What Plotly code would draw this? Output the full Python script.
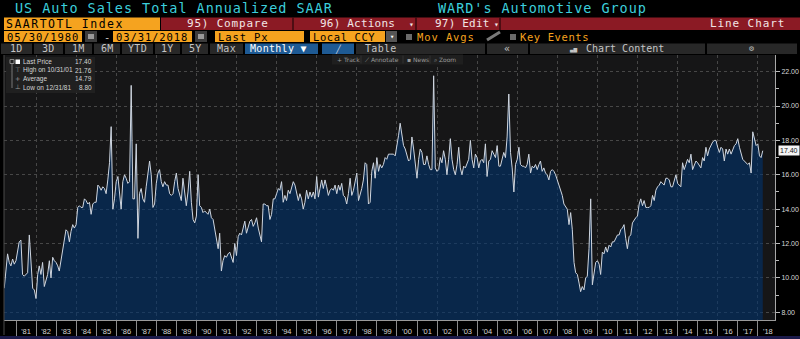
import plotly.graph_objects as go
import pandas as pd
from datetime import datetime

W, H = 800, 339

# ---------------- data (monthly SAAR, millions) ----------------
v1980 = [9.4, 10.6, 11.4, 10.9, 10.7, 11.1, 10.8, 11.0]  # May-Dec
v1981 = [11.5, 12.1, 12.2, 10.2, 10.1, 10.2, 10.3, 12.5, 11.1, 9.4, 9.3, 8.8]
v1982 = [10.2, 10.7, 10.2, 10.9, 9.5, 9.8, 10.2, 11.0, 10.0, 11.2, 11.0, 10.9]
v1983 = [10.7, 10.4, 11.0, 11.6, 12.0, 12.8, 12.7, 12.1, 12.7, 13.1, 12.9, 13.1]
v1984 = [14.1, 14.2, 14.1, 14.1, 14.6, 14.5, 14.3, 14.4, 13.7, 14.3, 14.4, 14.4]
v1985 = [15.4, 15.3, 15.1, 15.3, 15.2, 14.9, 15.7, 16.7, 18.8, 14.0, 14.6, 15.6]
v1986 = [15.9, 14.9, 14.0, 15.6, 16.0, 15.8, 15.5, 15.6, 21.2, 14.6, 14.6, 17.8]
v1987 = [12.3, 14.9, 15.2, 14.6, 14.4, 15.3, 16.0, 16.8, 16.0, 14.1, 14.3, 15.5]
v1988 = [16.1, 16.3, 15.6, 15.3, 15.6, 15.4, 15.4, 14.9, 14.8, 14.9, 15.6, 16.1]
v1989 = [15.2, 14.9, 14.5, 15.8, 14.8, 14.2, 15.0, 16.2, 14.4, 13.4, 13.2, 13.6]
v1990 = [16.0, 14.2, 14.1, 13.8, 13.9, 13.8, 13.7, 14.0, 13.5, 13.4, 12.9, 12.3]
v1991 = [11.7, 12.6, 10.4, 11.0, 11.3, 11.2, 11.4, 11.5, 11.2, 10.9, 12.0, 11.3]
v1992 = [12.4, 12.6, 12.5, 12.9, 13.3, 12.6, 12.9, 13.3, 13.4, 13.0, 13.2, 13.5]
v1993 = [12.9, 12.5, 12.1, 14.3, 14.3, 14.2, 14.2, 13.4, 13.7, 14.6, 14.6, 14.9]
v1994 = [15.2, 15.1, 15.6, 14.4, 14.8, 14.5, 15.1, 14.9, 15.2, 15.6, 15.4, 15.0]
v1995 = [14.5, 14.9, 14.6, 14.0, 14.4, 15.1, 14.6, 15.0, 14.7, 15.0, 14.6, 15.9]
v1996 = [14.7, 15.2, 15.7, 15.2, 15.7, 15.3, 14.8, 15.1, 15.2, 15.1, 15.4, 14.9]
v1997 = [15.4, 15.1, 15.5, 14.8, 14.7, 14.3, 14.9, 15.8, 14.8, 15.1, 15.6, 16.1]
v1998 = [14.5, 14.8, 15.2, 15.7, 16.7, 16.6, 14.3, 14.4, 16.2, 16.7, 15.8, 17.0]
v1999 = [16.2, 16.6, 16.4, 16.6, 17.0, 16.9, 17.2, 17.2, 17.2, 17.2, 17.1, 17.6]
v2000 = [18.3, 19.0, 18.4, 17.7, 17.5, 17.2, 16.8, 16.9, 18.2, 17.5, 16.7, 15.8]
v2001 = [16.9, 17.5, 17.3, 16.6, 16.6, 17.1, 16.6, 16.3, 16.3, 21.76, 16.4, 16.2]
v2002 = [16.3, 17.0, 16.7, 17.4, 16.9, 16.0, 16.9, 18.1, 16.9, 16.3, 16.0, 16.6]
v2003 = [17.6, 16.4, 16.0, 16.5, 16.4, 16.6, 16.9, 18.0, 16.9, 16.4, 17.2, 17.0]
v2004 = [16.4, 16.8, 16.9, 16.7, 17.8, 15.9, 16.8, 16.9, 17.4, 17.2, 17.0, 17.7]
v2005 = [16.5, 16.5, 16.9, 17.3, 17.0, 18.2, 20.7, 17.3, 16.4, 15.0, 16.6, 16.9]
v2006 = [17.6, 16.6, 16.5, 16.5, 16.4, 16.6, 17.2, 16.1, 16.5, 16.4, 16.6, 16.3]
v2007 = [16.6, 16.8, 16.2, 16.4, 16.1, 16.0, 15.7, 16.2, 16.3, 16.2, 16.0, 15.7]
v2008 = [15.4, 15.1, 14.8, 14.3, 14.1, 14.0, 13.1, 13.8, 12.8, 10.9, 10.3, 10.2]
v2009 = [9.7, 9.2, 9.5, 9.3, 10.0, 10.1, 11.7, 14.6, 9.6, 10.2, 10.9, 11.0]
v2010 = [10.8, 10.2, 11.5, 11.4, 11.8, 11.5, 11.9, 11.8, 12.1, 12.1, 12.3, 12.5]
v2011 = [12.5, 12.8, 12.9, 13.1, 12.3, 11.7, 12.4, 12.5, 13.2, 13.4, 13.5, 13.6]
v2012 = [14.3, 14.6, 14.2, 14.5, 14.1, 14.1, 14.1, 14.2, 14.8, 14.5, 15.1, 15.3]
v2013 = [15.4, 15.6, 15.5, 15.4, 15.8, 15.8, 15.7, 15.3, 15.3, 15.7, 16.0, 15.5]
v2014 = [15.4, 15.3, 16.7, 16.3, 16.6, 16.9, 16.7, 17.2, 16.3, 16.6, 16.8, 16.7]
v2015 = [16.5, 16.4, 17.0, 16.8, 17.6, 17.1, 17.5, 17.7, 17.9, 18.0, 18.0, 17.6]
v2016 = [17.3, 17.6, 17.5, 16.8, 17.5, 17.2, 17.5, 17.2, 17.5, 17.7, 17.8, 18.1]
v2017 = [17.6, 17.3, 16.9, 16.8, 16.7, 16.6, 16.7, 16.1, 18.5, 18.1, 17.7, 17.8]
v2018 = [17.1, 17.0, 17.4]  # Jan-Mar

yearly = [v1980, v1981, v1982, v1983, v1984, v1985, v1986, v1987, v1988, v1989,
          v1990, v1991, v1992, v1993, v1994, v1995, v1996, v1997, v1998, v1999,
          v2000, v2001, v2002, v2003, v2004, v2005, v2006, v2007, v2008, v2009,
          v2010, v2011, v2012, v2013, v2014, v2015, v2016, v2017, v2018]
values = [v for yr in yearly for v in yr]
try:
    dates = pd.date_range("1980-05-31", periods=len(values), freq="ME")
except Exception:
    dates = pd.date_range("1980-05-31", periods=len(values), freq="M")

label_years = list(range(1981, 2019))
x_ticktext = [f"'{y % 100:02d}" for y in label_years]
y_ticks = [8, 10, 12, 14, 16, 18, 20, 22]
y_minor = [9, 11, 13, 15, 17, 19, 21]
legend_labels = ["Last Price", "High on", "Average", "Low on"]
average_text = "14.79"

# ---------------- helpers ----------------
MONO = "DejaVu Sans Mono"
SANS = "Liberation Sans"
shapes, annotations = [], []


def frac_to_date(f):
    y = int(f)
    start = datetime(y, 1, 1)
    end = datetime(y + 1, 1, 1)
    return start + (end - start) * (f - y)


def px2date(x):
    return frac_to_date(1981 + (x - 16) / 20.05)


def box(x0, y0, x1, y1, color, layer="below", line=None):
    shapes.append(dict(type="rect", xref="paper", yref="paper",
                       x0=x0 / W, x1=x1 / W, y0=1 - y1 / H, y1=1 - y0 / H,
                       fillcolor=color, line=line or dict(width=0), layer=layer))


def seg(x0, y0, x1, y1, color, width=1, layer="above"):
    shapes.append(dict(type="line", xref="paper", yref="paper",
                       x0=x0 / W, x1=x1 / W, y0=1 - y0 / H, y1=1 - y1 / H,
                       line=dict(color=color, width=width), layer=layer))


def label(x, y, text, size, color, anchor="left", family=MONO, spacing=0):
    if spacing:
        text = f'<span style="letter-spacing:{spacing}px">{text}</span>'
    annotations.append(dict(xref="paper", yref="paper", x=x / W, y=1 - y / H,
                            text=text, showarrow=False, xanchor=anchor,
                            yanchor="middle", borderpad=0,
                            font=dict(family=family, size=size, color=color)))


ORANGE = "#f5a31f"
RED = "#8b1a24"
CYAN = "#3ccfdc"
BTN = "#282828"
BLUE = "#1e5a94"

# ---- row 1: titles
label(14, 8.5, "US Auto Sales Total Annualized SAAR", 13.5, CYAN, spacing=0.95)
label(437, 8.5, "WARD's Automotive Group", 13.5, CYAN, spacing=0.95)

# ---- row 2
box(4, 17.5, 160, 30, ORANGE)
label(5, 23.8, "SAARTOTL Index", 11.5, "#000000", spacing=1.5)
box(161, 17.5, 800, 30, RED)
for xd in [293, 416, 500]:
    seg(xd, 17.5, xd, 30, "#3a0a0e", 1.5)
label(186, 23.8, "95) Compare", 11, "#f2e6e6", spacing=0.8)
label(319, 23.8, "96) Actions", 11, "#f2e6e6", spacing=0.2)
label(411, 24, "▾", 8, "#f2e6e6", "center")
label(434, 23.8, "97) Edit", 11, "#f2e6e6", spacing=0.2)
label(496, 24, "▾", 8, "#f2e6e6", "center")
label(786, 23.8, "Line Chart", 11, "#f2e6e6", "right", spacing=0.9)

# ---- row 3
box(4, 31, 82, 42, ORANGE)
label(6, 36.6, "05/30/1980", 10.5, "#000000", spacing=0.9)
box(85, 31, 97, 42, "#3c3c3c")
box(88, 34, 94, 39, "#9a9a9a")
label(107, 36.6, "-", 10.5, "#cccccc", "center")
box(113, 31, 192, 42, ORANGE)
label(115, 36.6, "03/31/2018", 10.5, "#000000", spacing=0.9)
box(195, 31, 207, 42, "#3c3c3c")
box(198, 34, 204, 39, "#9a9a9a")
box(215, 31, 304, 42, ORANGE)
label(217, 36.6, "Last Px", 10.5, "#000000", spacing=0.9)
box(310, 31, 385, 42, ORANGE)
label(312, 36.6, "Local CCY", 10.5, "#000000", spacing=0.6)
box(386, 31, 397, 42, "#555555")
label(391.5, 36.8, "▾", 7, "#ffffff", "center")
box(406, 34, 412, 40, "#6a6a6a")
label(416, 36.6, "Mov Avgs", 10.5, ORANGE, spacing=0.9)
seg(487, 40, 500, 32, "#7a7a7a", 3)
box(510, 34, 516, 40, "#6a6a6a")
label(519, 36.6, "Key Events", 10.5, ORANGE, spacing=0.6)

# ---- row 4
tabs = [("1D", 1, 32), ("3D", 34, 63), ("1M", 65, 92), ("6M", 94, 120),
        ("YTD", 122, 153), ("1Y", 155, 180), ("5Y", 182, 208), ("Max", 210, 243)]
for t, a, b in tabs:
    box(a, 43.5, b, 54, BTN)
    label((a + b) / 2, 48.8, t, 10, "#c4c4c4", "center", spacing=0.3)
box(245, 43.5, 318, 54, BLUE)
label(249, 48.8, "Monthly ▼", 10, "#ffffff", spacing=0.3)
box(322, 43.5, 354, 54, BLUE)
label(338, 48.8, "╱", 8, "#d0d8e8", "center")
box(356, 43.5, 485, 54, BTN)
label(364, 48.8, "Table", 10, "#c4c4c4", spacing=0.3)
box(487, 43.5, 528, 54, BTN)
label(507, 48.5, "«", 10, "#c4c4c4", "center")
box(530, 43.5, 705, 54, BTN)
label(573, 48.8, "▃▅", 6, "#c4c4c4", "center")
label(585, 48.8, "Chart Content", 10, "#c4c4c4")
box(707, 43.5, 797, 54, BTN)
label(751, 48.8, "⚙", 8, "#bbbbbb", "center")

# ---- chart toolbar
box(332, 54.5, 463, 64.5, "#1f1f1f", layer="above")
for xd in [361, 403, 430]:
    seg(xd, 55.5, xd, 63.5, "#333333", 1)
label(336, 59.5, "+ Track", 6, "#9a9a9a", family="DejaVu Sans")
label(364, 59.5, "⟋ Annotate", 6, "#9a9a9a", family="DejaVu Sans")
label(406, 59.5, "▪ News", 6, "#9a9a9a", family="DejaVu Sans")
label(433, 59.5, "⌕ Zoom", 6, "#9a9a9a", family="DejaVu Sans")

# ---- legend box (chart statistics)
box(6, 57, 95, 93, "rgba(34,34,34,0.92)", layer="above")
box(10, 59.5, 14, 63.5, "rgba(0,0,0,0)", layer="above",
    line=dict(color="#888888", width=1))
seg(12, 64, 12, 88, "#777777", 1)
box(15.5, 59.5, 20, 64, "#ffffff", layer="above")
imax = max(range(len(values)), key=lambda i: values[i])
imin = min(range(len(values)), key=lambda i: values[i])
leg_rows = [
    (61.8, None, legend_labels[0], f"{values[-1]:.2f}"),
    (70.2, "⊤", f"{legend_labels[1]} {dates[imax]:%m/%d/%y}", f"{values[imax]:.2f}"),
    (78.8, "+", legend_labels[2], average_text),
    (87.4, "⊥", f"{legend_labels[3]} {dates[imin]:%m/%d/%y}", f"{values[imin]:.2f}"),
]
for yy, sym, txt, val in leg_rows:
    if sym:
        label(17.5, yy, sym, 6.5, "#9a9a9a", "center", family="DejaVu Sans")
    label(22, yy, txt, 6.5, "#d4d4d4", family=SANS)
    label(93, yy, val, 6.5, "#d4d4d4", "right", family=SANS)

# ---- frame bits
seg(4, 55, 4, 335, "#4a4a4a", 1)
box(0, 336, 800, 339, "#1b1a4a")

# ---- last value tag
annotations.append(dict(xref="paper", yref="y", x=777.5 / W, y=values[-1],
                        text=f"{values[-1]:.2f}", showarrow=False,
                        xanchor="left", yanchor="middle", bgcolor="#f4f4f4",
                        borderpad=1, font=dict(family=SANS, size=7, color="#111111")))

# ---------------- figure ----------------
x_range = [px2date(4), px2date(775)]
y_lo = 8 - (320 - 312.3) / 17.19
y_hi = 8 + (312.3 - 55) / 17.19

fig = go.Figure()
fig.add_trace(go.Scatter(
    x=dates, y=values, mode="lines",
    line=dict(color="#cfd6e0", width=1),
    fill="tozeroy", fillcolor="rgba(0,52,112,0.58)",
    hoverinfo="skip", showlegend=False))
fig.add_trace(go.Scatter(
    x=[dates[0]], y=[None], xaxis="x2", mode="lines",
    hoverinfo="skip", showlegend=False))

grid = "#474747"
fig.update_layout(
    width=W, height=H,
    margin=dict(l=0, r=0, t=0, b=0),
    paper_bgcolor="#000000",
    plot_bgcolor="#161617",
    showlegend=False,
    xaxis=dict(
        type="date", domain=[4 / W, 775 / W], range=x_range,
        tickmode="array",
        tickvals=[datetime(y, 7, 2) for y in label_years],
        ticktext=x_ticktext,
        ticks="", ticklabelstandoff=4,
        tickfont=dict(family=SANS, size=7.5, color="#d8d8d8"),
        minor=dict(tickmode="array",
                   tickvals=[datetime(y, 1, 1) for y in label_years],
                   ticks="outside", ticklen=15, tickcolor="#8a8a8a",
                   tickwidth=1, showgrid=False),
        showgrid=False, zeroline=False,
        showline=True, linecolor="#9a9a9a", linewidth=1,
    ),
    xaxis2=dict(
        type="date", overlaying="x", matches="x", range=x_range,
        tickmode="linear", tick0="1982-01-01", dtick="M24",
        showgrid=True, gridcolor=grid, griddash="dot", gridwidth=1,
        showticklabels=False, ticks="", showline=False, zeroline=False,
    ),
    yaxis=dict(
        side="right", domain=[(H - 320) / H, (H - 55) / H],
        range=[y_lo, y_hi], tickmode="array", tickvals=y_ticks,
        tickformat=".2f", ticks="outside", ticklen=4, tickcolor="#bbbbbb",
        tickfont=dict(family=SANS, size=7, color="#d8d8d8"),
        showgrid=True, gridcolor=grid, griddash="dot", gridwidth=1,
        zeroline=False, showline=True, linecolor="#a8a8a8", linewidth=1,
        minor=dict(tickmode="array", tickvals=y_minor, ticks="outside",
                   ticklen=3, tickcolor="#bbbbbb", showgrid=False),
    ),
    shapes=shapes,
    annotations=annotations,
)

fig.write_html("out.html", config={"displayModeBar": False})
